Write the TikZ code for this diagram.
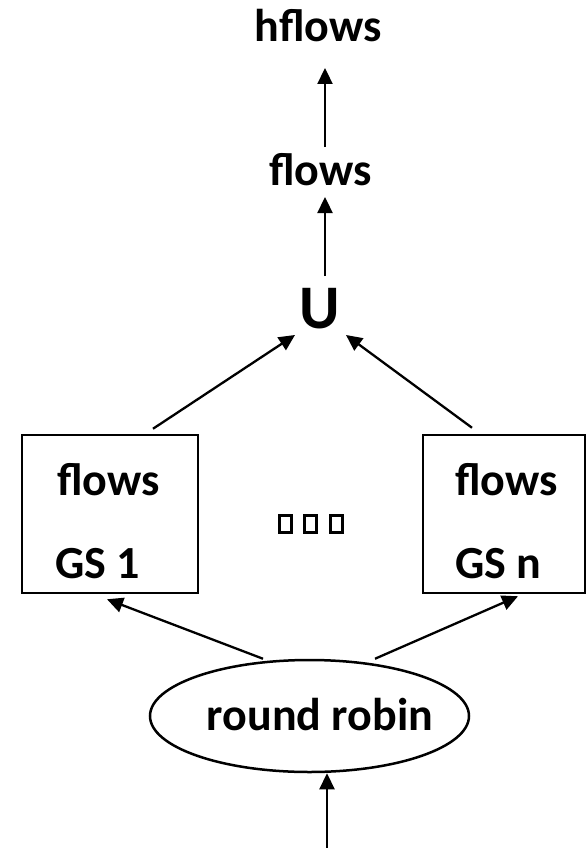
\documentclass[tikz,border=0pt]{standalone}
\usepackage{fontspec}
\setmainfont{Carlito}
\usetikzlibrary{arrows.meta,shapes.geometric}
\begin{document}
\begin{tikzpicture}[x=1pt,y=-1pt,
  lbl/.style={inner sep=0pt,anchor=base,font=\fontsize{46}{55}\selectfont\bfseries},
  unionlbl/.style={inner sep=0pt,anchor=base,font=\fontsize{62}{70}\selectfont\bfseries},
  gsbox/.style={draw,line width=2.5pt,inner sep=0pt},
  dotbox/.style={draw,line width=3pt,inner sep=0pt,minimum width=12pt,minimum height=17pt},
  arr/.style={line width=2.3pt,-{Triangle[length=16pt,width=15pt]}}]
\useasboundingbox (0,0) rectangle (587,848);

% output chain
\node[lbl] (hflows) at (318,42) {hflows};
\node[lbl] (flows) at (320.5,185) {flows};
\node[unionlbl] (union) at (319.5,328) {U};

% per-group boxes
\node[gsbox,minimum width=176pt,minimum height=158pt] (gs1) at (110,514) {};
\node[gsbox,minimum width=162pt,minimum height=158pt] (gsn) at (504,514) {};
\node[lbl,anchor=base west] (gs1f) at (57,495) {flows};
\node[lbl,anchor=base west] (gs1n) at (55,578) {GS 1};
\node[lbl,anchor=base west] (gsnf) at (455,495) {flows};
\node[lbl,anchor=base west] (gsnn) at (455,578) {GS n};

% ellipsis marks between the groups
\node[dotbox] (d1) at (285.5,523.5) {};
\node[dotbox] (d2) at (310.5,523.5) {};
\node[dotbox] (d3) at (336.5,523.5) {};

% dispatcher
\node[draw,ellipse,line width=2.5pt,minimum width=319pt,minimum height=112pt,inner sep=0pt] (rr) at (309.5,716) {};
\node[lbl] (rrtext) at (320,730) {round robin};
\coordinate (input) at (327,848);

% connectors
\draw[arr] (input) -- ([xshift=17.5pt]rr.south);
\draw[arr] ([xshift=-46.5pt]rr.north) -- ([xshift=-3pt,yshift=-5pt]gs1.south);
\draw[arr] ([xshift=65.5pt]rr.north) -- ([xshift=14pt,yshift=-2pt]gsn.south);
\draw[arr] ([xshift=43pt,yshift=5pt]gs1.north) -- ([xshift=-24.5pt,yshift=-7pt]union.base);
\draw[arr] ([xshift=-32pt,yshift=6pt]gsn.north) -- ([xshift=26.5pt,yshift=-7pt]union.base);
\draw[arr] ([xshift=5.5pt,yshift=52pt]union.base) -- ([xshift=4.5pt,yshift=-12pt]flows.base);
\draw[arr] ([xshift=4.5pt,yshift=38pt]flows.base) -- ([xshift=7pt,yshift=-26pt]hflows.base);
\end{tikzpicture}
\end{document}
